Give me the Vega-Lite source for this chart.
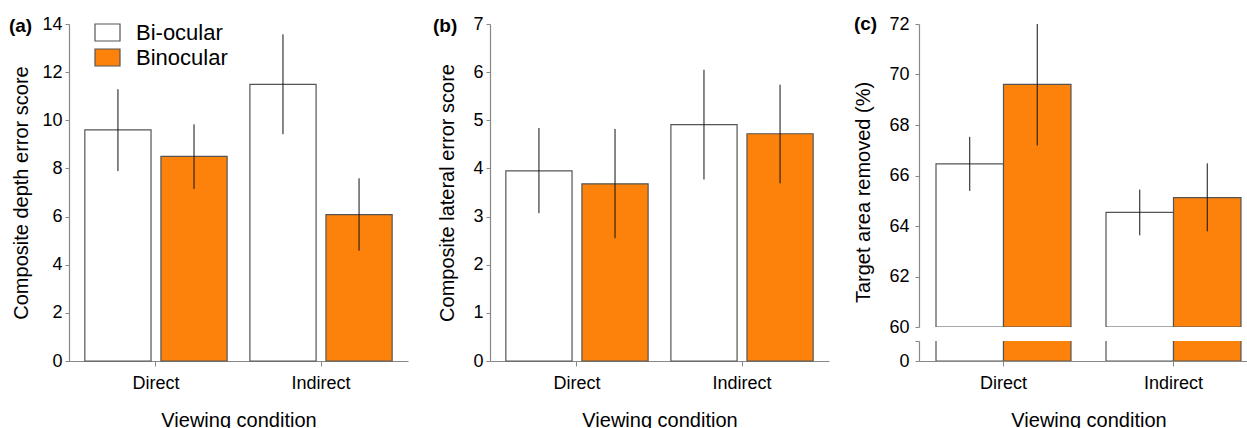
{
  "$schema": "https://vega.github.io/schema/vega-lite/v6.json",
  "padding": {"left": 8, "top": 15, "right": 0, "bottom": 0},
  "config": {
    "font": "Liberation Sans",
    "view": {"stroke": null},
    "axis": {"labelFont": "Liberation Sans", "titleFont": "Liberation Sans", "labelFontSize": 18, "titleFontSize": 20, "titleFontWeight": "normal", "labelColor": "#000", "titleColor": "#000", "domainColor": "#888", "tickColor": "#888", "grid": false, "tickSize": 4, "labelPadding": 3, "domainWidth": 1.2},
    "axisX": {"labelAngle": 0, "tickSize": 5, "titlePadding": 18, "labelPadding": 8},
    "axisY": {"titlePadding": 10},
    "title": {"fontSize": 19, "fontWeight": "bold", "anchor": "start", "frame": "bounds", "font": "Liberation Sans", "color": "#000", "baseline": "middle", "offset": 0}
  },
  "datasets": {
    "d": [
      {"panel": "a", "condition": "Direct", "type": "Bi-ocular", "value": 9.6, "lo": 7.89, "hi": 11.29},
      {"panel": "a", "condition": "Direct", "type": "Binocular", "value": 8.5, "lo": 7.15, "hi": 9.83},
      {"panel": "a", "condition": "Indirect", "type": "Bi-ocular", "value": 11.49, "lo": 9.42, "hi": 13.57},
      {"panel": "a", "condition": "Indirect", "type": "Binocular", "value": 6.08, "lo": 4.58, "hi": 7.59},
      {"panel": "b", "condition": "Direct", "type": "Bi-ocular", "value": 3.95, "lo": 3.07, "hi": 4.84},
      {"panel": "b", "condition": "Direct", "type": "Binocular", "value": 3.68, "lo": 2.55, "hi": 4.82},
      {"panel": "b", "condition": "Indirect", "type": "Bi-ocular", "value": 4.91, "lo": 3.77, "hi": 6.05},
      {"panel": "b", "condition": "Indirect", "type": "Binocular", "value": 4.72, "lo": 3.69, "hi": 5.74},
      {"panel": "c", "condition": "Direct", "type": "Bi-ocular", "value": 66.46, "lo": 65.39, "hi": 67.53},
      {"panel": "c", "condition": "Direct", "type": "Binocular", "value": 69.61, "lo": 67.19, "hi": 72.0},
      {"panel": "c", "condition": "Indirect", "type": "Bi-ocular", "value": 64.54, "lo": 63.63, "hi": 65.44},
      {"panel": "c", "condition": "Indirect", "type": "Binocular", "value": 65.12, "lo": 63.79, "hi": 66.48}
    ]
  },
  "spacing": 24,
  "resolve": {"scale": {"fill": "independent", "x": "independent", "y": "independent", "xOffset": "independent"}, "legend": {"fill": "independent"}},
  "hconcat": [
    {
      "width": 339,
      "height": 337,
      "title": {"text": "(a)", "dy": 25, "dx": -3},
      "data": {"name": "d"},
      "transform": [{"filter": "datum.panel == 'a'"}],
      "encoding": {
        "x": {"field": "condition", "type": "nominal", "sort": ["Direct", "Indirect"], "scale": {"paddingInner": 0.138, "paddingOuter": 0.096}, "axis": {"title": "Viewing condition"}},
        "xOffset": {"field": "type", "type": "nominal", "sort": ["Bi-ocular", "Binocular"], "scale": {"paddingInner": 0.13, "paddingOuter": 0}}
      },
      "layer": [
        {
          "mark": {"type": "bar", "stroke": "#555", "strokeWidth": 1.2},
          "encoding": {
            "y": {"field": "value", "type": "quantitative", "scale": {"domain": [0, 14]}, "axis": {"values": [0, 2, 4, 6, 8, 10, 12, 14], "title": "Composite depth error score"}},
            "fill": {"field": "type", "type": "nominal", "sort": ["Bi-ocular", "Binocular"], "scale": {"domain": ["Bi-ocular", "Binocular"], "range": ["#ffffff", "#FC820C"]},
              "legend": {"title": null, "orient": "none", "legendX": 25, "legendY": -5, "symbolType": "M-1,-0.68H1V0.68H-1Z", "symbolSize": 625, "symbolStrokeColor": "#555", "symbolStrokeWidth": 1.2, "labelFontSize": 22, "labelFont": "Liberation Sans", "labelColor": "#000", "labelOffset": 15, "rowPadding": -1}}
          }
        },
        {
          "mark": {"type": "rule", "color": "#111", "strokeWidth": 1},
          "encoding": {"y": {"field": "lo", "type": "quantitative"}, "y2": {"field": "hi"}}
        }
      ]
    },
    {
      "width": 339,
      "height": 337,
      "title": {"text": "(b)", "dy": 25, "dx": -5},
      "data": {"name": "d"},
      "transform": [{"filter": "datum.panel == 'b'"}],
      "encoding": {
        "x": {"field": "condition", "type": "nominal", "sort": ["Direct", "Indirect"], "scale": {"paddingInner": 0.138, "paddingOuter": 0.096}, "axis": {"title": "Viewing condition"}},
        "xOffset": {"field": "type", "type": "nominal", "sort": ["Bi-ocular", "Binocular"], "scale": {"paddingInner": 0.13, "paddingOuter": 0}}
      },
      "layer": [
        {
          "mark": {"type": "bar", "stroke": "#555", "strokeWidth": 1.2},
          "encoding": {
            "y": {"field": "value", "type": "quantitative", "scale": {"domain": [0, 7]}, "axis": {"values": [0, 1, 2, 3, 4, 5, 6, 7], "title": "Composite lateral error score", "titlePadding": 15}},
            "fill": {"field": "type", "type": "nominal", "scale": {"domain": ["Bi-ocular", "Binocular"], "range": ["#ffffff", "#FC820C"]}, "legend": null}
          }
        },
        {
          "mark": {"type": "rule", "color": "#111", "strokeWidth": 1},
          "encoding": {"y": {"field": "lo", "type": "quantitative"}, "y2": {"field": "hi"}}
        }
      ]
    },
    {
      "bounds": "flush",
      "spacing": 14,
      "resolve": {"scale": {"fill": "independent", "x": "independent", "y": "independent", "xOffset": "independent"}, "legend": {"fill": "independent"}},
      "vconcat": [
        {
          "width": 339,
          "height": 303,
          "title": {"text": "(c)", "dy": 23, "dx": 0},
          "data": {"name": "d"},
          "transform": [{"filter": "datum.panel == 'c'"}],
          "encoding": {
            "x": {"field": "condition", "type": "nominal", "sort": ["Direct", "Indirect"], "scale": {"paddingInner": 0.206, "paddingOuter": 0.1}, "axis": null},
            "xOffset": {"field": "type", "type": "nominal", "sort": ["Bi-ocular", "Binocular"], "scale": {"paddingInner": 0, "paddingOuter": 0}}
          },
          "layer": [
            {
              "mark": {"type": "bar", "stroke": "#555", "strokeWidth": 1.2, "clip": true},
              "encoding": {
                "y": {"field": "value", "type": "quantitative", "scale": {"domain": [60, 72]}, "axis": {"values": [60, 62, 64, 66, 68, 70, 72], "title": "Target area removed (%)", "titleY": 168, "titlePadding": 15, "labelPadding": 6}},
                "y2": {"datum": 60},
                "fill": {"field": "type", "type": "nominal", "scale": {"domain": ["Bi-ocular", "Binocular"], "range": ["#ffffff", "#FC820C"]}, "legend": null}
              }
            },
            {
              "mark": {"type": "rule", "color": "#111", "strokeWidth": 1},
              "encoding": {"y": {"field": "lo", "type": "quantitative"}, "y2": {"field": "hi"}}
            }
          ]
        },
        {
          "width": 339,
          "height": 20,
          "data": {"name": "d"},
          "transform": [{"filter": "datum.panel == 'c'"}],
          "encoding": {
            "x": {"field": "condition", "type": "nominal", "sort": ["Direct", "Indirect"], "scale": {"paddingInner": 0.206, "paddingOuter": 0.1}, "axis": {"title": "Viewing condition"}},
            "xOffset": {"field": "type", "type": "nominal", "sort": ["Bi-ocular", "Binocular"], "scale": {"paddingInner": 0, "paddingOuter": 0}},
            "y": {"field": "value", "type": "quantitative", "scale": {"domain": [0, 34]}, "axis": {"values": [0, 34], "labelExpr": "datum.value == 0 ? '0' : ''", "title": null, "labelPadding": 6}},
            "fill": {"field": "type", "type": "nominal", "scale": {"domain": ["Bi-ocular", "Binocular"], "range": ["#ffffff", "#FC820C"]}, "legend": null}
          },
          "mark": {"type": "bar", "stroke": "#555", "strokeWidth": 1.2, "clip": true}
        }
      ]
    }
  ]
}
